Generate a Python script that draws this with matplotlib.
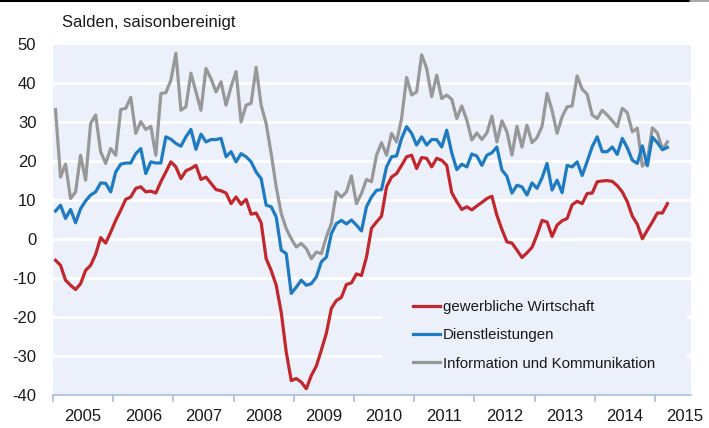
import numpy as np
import matplotlib
matplotlib.use('Agg')
import matplotlib.pyplot as plt
from matplotlib.patches import Rectangle
from matplotlib.lines import Line2D

plt.rcParams['font.family'] = ['Liberation Sans', 'DejaVu Sans']
plt.rcParams['axes.unicode_minus'] = False

# monthly balances, Jan 2005 - Mar 2015 (one row per year)
gewerbe = [-5.5, -6.8, -10.6, -11.9, -13.0, -11.5, -8.1, -6.8, -4.0, 0.3, -1.1, 1.7,
           4.7, 7.3, 10.1, 10.7, 12.9, 13.3, 12.0, 12.2, 11.7, 14.6, 17.1, 19.7,
           18.4, 15.4, 17.4, 18.0, 18.8, 15.2, 15.8, 14.2, 12.6, 12.3, 11.7, 9.0,
           10.7, 8.8, 10.1, 6.3, 6.6, 4.1, -5.1, -8.1, -11.9, -18.8, -29.0, -36.3,
           -35.8, -36.7, -38.4, -35.0, -32.6, -28.5, -24.2, -17.8, -15.8, -15.0, -11.7, -11.3,
           -9.0, -9.4, -4.7, 2.7, 4.3, 5.8, 13.3, 15.8, 16.7, 18.8, 21.0, 21.4,
           18.0, 20.8, 20.6, 18.4, 20.6, 20.1, 18.8, 11.8, 9.5, 7.5, 8.2, 7.4,
           8.4, 9.3, 10.3, 10.9, 6.0, 2.4, -0.8, -1.1, -2.9, -4.8, -3.6, -2.2,
           1.0, 4.7, 4.3, 0.6, 3.5, 4.6, 5.2, 8.7, 9.6, 9.0, 11.6, 11.7,
           14.6, 14.8, 14.9, 14.7, 13.6, 12.0, 9.5, 5.8, 3.7, 0.0, 2.2, 4.3,
           6.6, 6.6, 9.0]

dienst = [7.1, 8.6, 5.2, 7.5, 4.1, 7.7, 9.7, 11.2, 12.0, 14.3, 14.2, 12.0,
          17.1, 19.1, 19.4, 19.4, 21.8, 23.1, 16.7, 19.7, 19.4, 19.4, 26.1, 25.5,
          24.4, 23.7, 26.1, 28.0, 22.9, 26.8, 24.8, 25.4, 25.4, 25.7, 21.0, 22.3,
          19.7, 21.8, 21.0, 19.7, 17.1, 15.4, 8.6, 8.2, 5.6, -2.9, -3.8, -14.0,
          -12.4, -10.6, -11.9, -11.5, -9.8, -5.9, -4.7, 1.3, 3.9, 4.7, 3.8, 4.8,
          3.5, 2.0, 8.2, 10.7, 12.4, 12.6, 18.4, 21.0, 21.2, 25.7, 28.7, 27.0,
          24.0, 26.1, 24.0, 25.4, 25.4, 23.5, 27.8, 22.0, 17.7, 19.1, 18.4, 21.7,
          21.2, 18.8, 21.4, 22.0, 23.5, 17.6, 16.0, 11.7, 13.7, 13.3, 11.2, 14.3,
          12.9, 15.6, 19.3, 12.5, 15.0, 11.8, 18.8, 18.4, 19.7, 16.2, 19.8, 23.6,
          26.1, 22.3, 22.3, 23.5, 21.6, 25.7, 23.3, 20.1, 19.3, 23.8, 18.7, 26.0,
          24.6, 22.8, 23.4]

ikt = [33.1, 15.8, 19.1, 10.3, 12.0, 21.4, 15.0, 29.5, 31.7, 22.3, 19.3, 23.1,
       21.4, 33.1, 33.4, 36.2, 27.0, 30.0, 28.0, 28.8, 21.4, 37.2, 37.4, 40.6,
       47.5, 32.9, 33.8, 42.4, 37.6, 32.9, 43.6, 41.0, 37.6, 40.2, 34.2, 38.9,
       42.8, 29.9, 34.2, 34.7, 43.9, 34.2, 29.5, 21.8, 13.3, 6.5, 2.6, 0.0,
       -2.1, -1.2, -2.5, -5.1, -3.4, -3.8, 0.5, 3.9, 12.0, 10.7, 12.0, 16.1,
       9.0, 11.6, 15.2, 14.6, 21.4, 24.6, 21.4, 27.0, 24.8, 30.8, 41.3, 36.8,
       37.6, 47.1, 43.6, 36.4, 41.9, 35.9, 36.8, 35.7, 30.8, 34.0, 30.4, 25.3,
       27.1, 25.4, 27.1, 31.4, 24.8, 30.2, 27.4, 21.4, 28.8, 23.5, 29.1, 24.6,
       25.9, 28.8, 37.2, 32.9, 27.0, 31.2, 33.8, 34.0, 41.7, 38.3, 37.0, 31.7,
       30.8, 32.9, 31.7, 30.2, 28.7, 33.4, 32.3, 27.4, 28.3, 18.6, 20.1, 28.4,
       27.1, 22.9, 24.8]

series_names = ['gewerbliche Wirtschaft', 'Dienstleistungen', 'Information und Kommunikation']
years = list(range(2005, 2016))

# mid-month positions
t = 2005 + (np.arange(len(gewerbe)) + 0.5) / 12

W, H = 709, 428
fig = plt.figure(figsize=(W / 100, H / 100), dpi=100)
ax = fig.add_axes([53 / W, 1 - 395 / H, 638 / W, (395 - 43.5) / H])

bg = '#ebf0fa'
axis_col = '#a9bbe0'
ax.set_facecolor(bg)

ax.plot(t, ikt, color='#989898', lw=2.3, zorder=3, label=series_names[2])
ax.plot(t, dienst, color='#1f7bc1', lw=2.3, zorder=4, label=series_names[1])
ax.plot(t, gewerbe, color='#c1272d', lw=2.3, zorder=5, label=series_names[0])

ax.set_xlim(2005, 2005 + 127.2 / 12)
ax.set_ylim(-40, 50)
ax.set_yticks(range(-40, 51, 10))
ax.yaxis.grid(True, color='white', lw=2.2)
ax.set_axisbelow(True)

for s in ['top', 'right', 'left']:
    ax.spines[s].set_visible(False)
ax.spines['bottom'].set_color(axis_col)
ax.spines['bottom'].set_linewidth(1.2)

ax.set_xticks(years)
ax.set_xticklabels([])
ax.set_xticks([y + 0.5 for y in years], minor=True)
ax.set_xticklabels([str(y) for y in years], minor=True)
ax.tick_params(axis='x', which='major', direction='out', length=5, width=1.2, color=axis_col)
ax.tick_params(axis='x', which='minor', length=0, pad=10, labelsize=12, labelcolor='#1a1a1a')
ax.tick_params(axis='y', length=0, pad=12, labelsize=12, labelcolor='#1a1a1a')

# legend area hides the grid
ax.add_patch(Rectangle((0.5157, 0.027), 0.478, 0.275, transform=ax.transAxes,
                       facecolor=bg, edgecolor='none', zorder=2))
handles, labels = ax.get_legend_handles_labels()
leg = ax.legend(handles[::-1], labels[::-1], loc='upper left',
                bbox_to_anchor=(0.5643, 0.27), frameon=False, fontsize=10.8,
                handlelength=1.8, handletextpad=0.2, labelspacing=0.95, borderpad=0,
                borderaxespad=0)
for txt in leg.get_texts():
    txt.set_color('#1a1a1a')

fig.text(62 / W, 1 - 27 / H, 'Salden, saisonbereinigt', fontsize=12, color='#1a1a1a')

# thin frame line at the very top
fig.add_artist(Line2D([0, 690 / W], [1 - 1 / H, 1 - 1 / H], color='black', lw=1.5,
                      transform=fig.transFigure))
fig.add_artist(Line2D([690 / W, 1], [1 - 1 / H, 1 - 1 / H], color='#9a9a9a', lw=1.2,
                      transform=fig.transFigure))

fig.savefig('out.png', dpi=100)
